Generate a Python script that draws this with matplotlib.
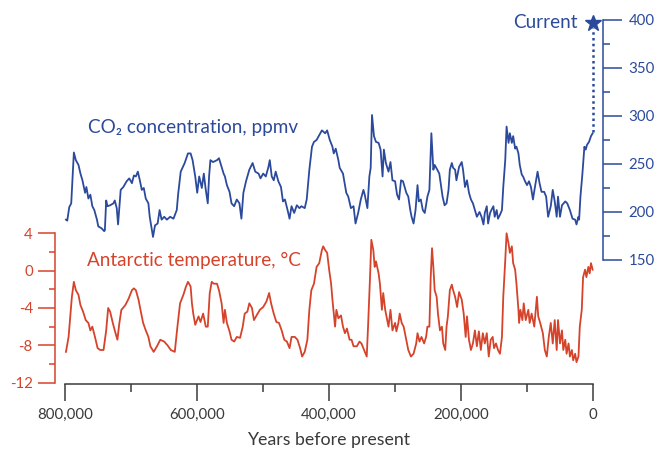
import matplotlib
matplotlib.use("Agg")
import matplotlib.pyplot as plt
from matplotlib.ticker import FixedLocator, FuncFormatter

plt.rcParams['font.family'] = ['Lato', 'DejaVu Sans']
plt.rcParams['axes.unicode_minus'] = False

BLUE = '#2c4a9c'
RED = '#d6432b'
GREY = '#3a3a3a'

# CO2 record, ages in thousands of years before present
co2_age = [799, 797, 794, 791, 787, 784, 780, 777, 774, 770, 768, 765, 762, 759, 756,
           752, 750, 745, 741, 740, 738, 736, 732, 727, 725, 722, 720, 716, 712, 707,
           703, 699, 696, 693, 690, 687, 684, 681, 678, 674, 672, 667, 664, 660, 657,
           654, 650, 646, 641, 636, 631, 629, 625, 619, 614, 610, 607, 603, 600, 597,
           593, 590, 587, 584, 582, 580, 576, 570, 567, 563, 560, 558, 555, 551, 548,
           544, 540, 536, 533, 530, 526, 521, 516, 512, 507, 504, 500, 496, 492, 490,
           487, 484, 481, 477, 473, 470, 467, 463, 460, 457, 453, 449, 445, 442, 437,
           434, 430, 426, 423, 419, 415, 411, 406, 403, 399, 395, 393, 390, 386, 384,
           379, 377, 374, 371, 367, 363, 360, 356, 352, 348, 346, 342, 339, 337, 335,
           332, 329, 325, 322, 319, 317, 314, 310, 307, 304, 300, 297, 294, 291, 288,
           283, 280, 277, 275, 272, 269, 266, 264, 261, 258, 255, 251, 248, 245, 242,
           240, 236, 233, 230, 228, 225, 222, 219, 217, 214, 212, 209, 207, 203, 199,
           197, 194, 191, 188, 185, 182, 179, 176, 172, 169, 166, 164, 161, 159, 156,
           154, 151, 149, 146, 144, 141, 138, 136, 133, 131, 128, 126, 123, 121, 118,
           116, 113, 111, 108, 106, 103, 100, 97, 94, 91, 88, 84, 81, 78, 74,
           71, 68, 64, 61, 58, 55, 53, 50, 47, 42, 39, 35, 31, 27, 25,
           22, 21, 19, 16, 13, 11, 9, 6, 3, 0.5]
co2_ppm = [192, 191, 205, 209, 262, 254, 249, 240, 233, 220, 226, 214, 218, 206, 202,
           192, 185, 183, 180, 181, 212, 206, 207, 209, 212, 204, 187, 223, 226, 232,
           235, 230, 238, 237, 242, 233, 223, 225, 214, 209, 195, 174, 186, 188, 202,
           192, 195, 192, 195, 193, 202, 218, 242, 251, 261, 261, 254, 237, 220, 237,
           225, 240, 223, 209, 237, 254, 252, 254, 256, 247, 240, 237, 228, 221, 209,
           206, 213, 209, 193, 220, 232, 244, 251, 242, 240, 235, 240, 237, 247, 254,
           237, 233, 242, 232, 226, 211, 213, 202, 193, 206, 199, 207, 204, 206, 204,
           213, 244, 268, 273, 275, 280, 285, 282, 285, 275, 268, 261, 266, 254, 246,
           240, 232, 220, 216, 204, 206, 188, 199, 213, 223, 218, 204, 237, 246, 301,
           279, 273, 272, 265, 237, 265, 251, 242, 252, 233, 232, 218, 213, 233, 232,
           220, 216, 202, 195, 188, 202, 228, 211, 213, 202, 199, 216, 223, 282, 244,
           249, 244, 240, 226, 216, 207, 209, 223, 244, 251, 246, 244, 233, 247, 252,
           244, 226, 233, 220, 213, 209, 202, 195, 200, 195, 187, 199, 206, 188, 199,
           202, 206, 195, 202, 193, 197, 202, 226, 254, 289, 272, 282, 272, 279, 266,
           268, 261, 249, 239, 237, 232, 228, 232, 226, 213, 226, 242, 230, 221, 221,
           216, 195, 206, 223, 211, 195, 216, 195, 207, 211, 209, 202, 193, 192, 187,
           195, 192, 216, 240, 268, 265, 270, 273, 279, 282]

# Antarctic temperature anomaly, ages in thousands of years before present
temp_age = [799, 795, 790, 787, 784, 780, 777, 773, 769, 765, 762, 759, 755, 751, 747,
            742, 738, 735, 732, 728, 725, 721, 718, 715, 709, 704, 699, 696, 693, 689,
            686, 682, 678, 674, 671, 666, 661, 656, 650, 645, 640, 634, 630, 626, 621,
            617, 614, 610, 608, 606, 603, 598, 595, 591, 587, 584, 581, 578, 575, 570,
            567, 563, 560, 558, 555, 551, 548, 544, 540, 535, 531, 528, 524, 521, 517,
            514, 510, 505, 500, 495, 491, 488, 484, 480, 476, 472, 468, 464, 460, 457,
            452, 448, 444, 441, 437, 433, 430, 427, 423, 419, 415, 411, 409, 406, 403,
            400, 397, 395, 392, 391, 389, 386, 382, 379, 376, 373, 369, 366, 363, 358,
            354, 351, 347, 343, 341, 338, 336, 333, 331, 329, 325, 323, 320, 318, 315,
            313, 310, 307, 304, 300, 298, 295, 293, 290, 287, 283, 280, 276, 272, 268,
            266, 263, 260, 256, 253, 251, 248, 246, 244, 242, 240, 237, 235, 232, 229,
            227, 224, 222, 220, 217, 214, 212, 209, 206, 203, 199, 196, 193, 191, 188,
            185, 182, 179, 176, 173, 170, 167, 164, 161, 158, 155, 152, 150, 147, 144,
            141, 138, 136, 133, 131, 128, 126, 123, 121, 118, 116, 113, 112, 110, 107,
            105, 102, 98, 96, 93, 89, 85, 83, 80, 76, 73, 70, 67, 64, 61,
            58, 55, 53, 50, 47, 45, 42, 40, 37, 35, 32, 30, 27, 25, 22,
            20, 17, 15, 12, 10, 7, 5, 3, 0.5]
temp_c = [-8.7, -7.1, -2.8, -1.2, -2.1, -2.6, -3.7, -4.4, -5.3, -5.6, -6.4, -6.0, -7.1, -8.3, -8.5,
          -8.5, -6.4, -4.0, -4.4, -5.6, -6.4, -7.4, -5.6, -4.2, -3.7, -3.0, -2.1, -1.9, -2.1, -3.1,
          -4.2, -5.6, -6.4, -7.1, -8.1, -8.7, -8.1, -7.4, -7.6, -8.0, -8.5, -8.7, -6.0, -3.5, -2.6,
          -1.7, -1.2, -1.7, -3.5, -4.6, -5.8, -4.9, -5.5, -4.6, -6.0, -6.0, -2.4, -1.2, -1.4, -1.4,
          -2.1, -3.5, -5.6, -4.2, -5.6, -6.5, -7.4, -7.6, -7.1, -7.2, -6.0, -4.6, -4.4, -3.5, -4.0,
          -5.3, -4.8, -4.2, -3.9, -3.3, -2.4, -3.5, -4.6, -5.5, -5.6, -6.4, -7.4, -7.6, -8.3, -7.1,
          -7.1, -7.4, -8.3, -9.2, -8.7, -7.4, -4.2, -2.1, -1.4, 0.4, 0.8, 2.2, 2.6, 2.2, 1.9,
          0.1, -1.4, -3.1, -5.3, -6.0, -4.2, -5.1, -4.8, -6.0, -6.7, -6.2, -7.4, -7.4, -8.1, -8.1,
          -7.6, -7.8, -8.5, -9.2, -6.0, -0.7, 3.3, 2.2, 0.4, 1.0, -0.3, -1.4, -4.2, -2.4, -4.2,
          -4.9, -6.0, -4.2, -6.4, -5.6, -6.5, -5.6, -4.6, -5.6, -6.0, -7.4, -8.5, -9.2, -8.9, -7.8,
          -6.7, -7.6, -7.1, -7.8, -7.1, -6.0, -6.0, -0.7, 2.4, 0.4, -2.1, -2.8, -4.6, -6.4, -6.0,
          -7.8, -8.5, -6.0, -4.9, -2.1, -1.5, -2.1, -2.8, -3.9, -2.3, -3.1, -4.6, -7.1, -4.9, -7.4,
          -8.5, -7.8, -6.4, -8.1, -6.5, -8.5, -6.7, -7.8, -6.7, -9.2, -7.4, -7.1, -8.3, -7.8, -8.5,
          -8.9, -7.1, -2.8, 1.1, 4.0, 2.9, 1.9, 2.6, 0.8, 0.1, -1.4, -4.2, -5.6, -4.2, -5.3,
          -3.5, -5.3, -4.2, -5.6, -4.6, -6.0, -2.8, -4.9, -5.6, -6.7, -8.5, -9.2, -7.1, -5.6, -7.8,
          -5.3, -8.5, -5.3, -7.8, -6.4, -8.5, -7.4, -8.9, -7.8, -9.2, -8.5, -9.6, -8.9, -9.8, -9.2,
          -6.0, -4.2, -0.7, 0.1, -0.7, 0.4, -0.3, 0.8, 0.1]

current_age = 0
current_ppm = 397
dotted_from = 283

x_ticks = [800000, 600000, 400000, 200000, 0]
x_minor = [700000, 500000, 300000, 100000]
t_ticks = [-12, -8, -4, 0, 4]
t_minor = [-10, -6, -2, 2]
c_ticks = [150, 200, 250, 300, 350, 400]
c_minor = [175, 225, 275, 325, 375]

fig = plt.figure(figsize=(6.57, 4.58), dpi=100)
ax = fig.add_axes([55 / 657, 1 - 384 / 458, 548 / 657, 369 / 458])
ax2 = ax.twinx()

ax.plot([a * 1000 for a in temp_age], temp_c, color=RED, lw=1.3)
ax2.plot([a * 1000 for a in co2_age], co2_ppm, color=BLUE, lw=1.3)
ax2.plot([current_age, current_age], [dotted_from, current_ppm - 5], color=BLUE,
         lw=1.8, ls=(0, (1, 1.3)))
ax2.plot([current_age], [current_ppm], marker='*', ms=12, color=BLUE, mec=BLUE)

ax.set_xlim(815600, -15200)
ax.set_ylim(-12.14, 27.37)
ax2.set_ylim(20.8, 405.2)

for s in ['top', 'right']:
    ax.spines[s].set_visible(False)
for s in ['top', 'left', 'bottom']:
    ax2.spines[s].set_visible(False)

ax.spines['left'].set_bounds(-12, 4)
ax.spines['left'].set_color(RED)
ax.spines['left'].set_linewidth(1.1)
ax.spines['bottom'].set_bounds(0, 800000)
ax.spines['bottom'].set_color(GREY)
ax.spines['bottom'].set_linewidth(1.1)
ax2.spines['right'].set_bounds(150, 400)
ax2.spines['right'].set_color(BLUE)
ax2.spines['right'].set_linewidth(1.1)

ax.xaxis.set_major_locator(FixedLocator(x_ticks))
ax.xaxis.set_minor_locator(FixedLocator(x_minor))
ax.xaxis.set_major_formatter(FuncFormatter(lambda v, p: f"{int(v):,}"))
ax.tick_params(axis='x', which='major', length=12, width=1.1, color=GREY,
               labelsize=10.8, labelcolor=GREY, pad=5)
ax.tick_params(axis='x', which='minor', length=5.5, width=1.1, color=GREY)

ax.yaxis.set_major_locator(FixedLocator(t_ticks))
ax.yaxis.set_minor_locator(FixedLocator(t_minor))
ax.tick_params(axis='y', which='major', length=12, width=1.1, color=RED,
               labelsize=10.8, labelcolor=RED, pad=4)
ax.tick_params(axis='y', which='minor', length=4.5, width=1.1, color=RED)

ax2.yaxis.set_major_locator(FixedLocator(c_ticks))
ax2.yaxis.set_minor_locator(FixedLocator(c_minor))
ax2.tick_params(axis='y', which='major', length=13.5, width=1.1, color=BLUE,
                labelsize=10.8, labelcolor=BLUE, pad=5)
ax2.tick_params(axis='y', which='minor', length=5, width=1.1, color=BLUE)

fig.text(88 / 657, 1 - 128 / 458, "CO\u2082 concentration, ppmv", color=BLUE,
         fontsize=13.6, va='center', ha='left')
fig.text(87 / 657, 1 - 260 / 458, "Antarctic temperature, \u00b0C", color=RED,
         fontsize=13.6, va='center', ha='left')
fig.text(578 / 657, 1 - 22 / 458, "Current", color=BLUE, fontsize=13.6,
         va='center', ha='right')
fig.text(329 / 657, 1 - 440 / 458, "Years before present", color=GREY,
         fontsize=12.8, va='center', ha='center')

fig.savefig('out.png', dpi=100)
